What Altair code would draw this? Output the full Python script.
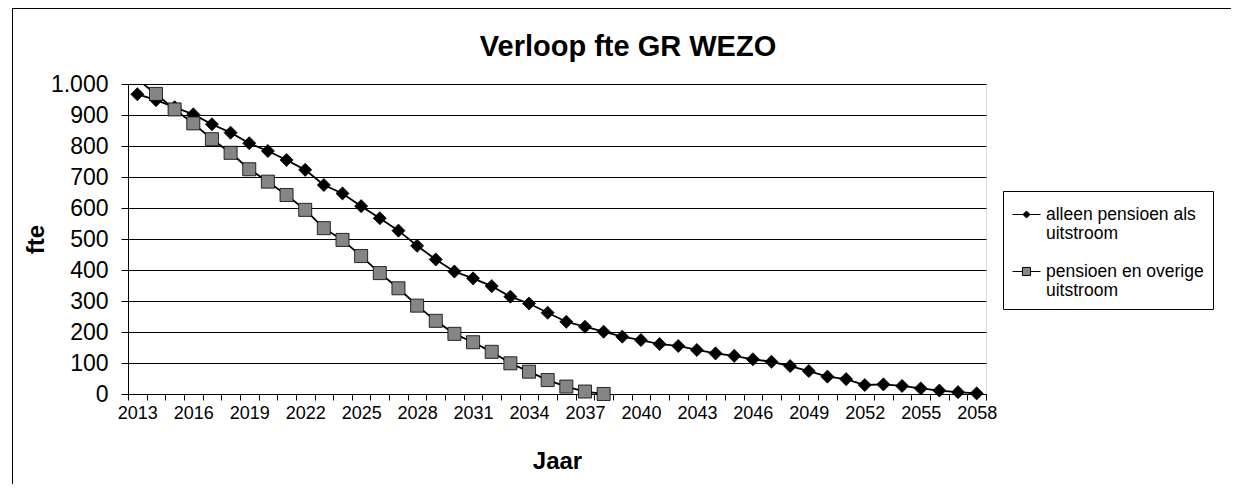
import altair as alt
import pandas as pd

# ---- data ----
years = list(range(2013, 2059))
alleen = [967, 948, 925, 902, 870, 843, 809, 784, 755, 723,
          674, 647, 606, 567, 527, 478, 434, 395, 373, 348,
          314, 292, 262, 233, 217, 201, 185, 174, 161, 155,
          142, 131, 123, 112, 104, 90, 74, 56, 48, 29,
          31, 26, 18, 11, 6, 2]
overige_years = list(range(2013, 2039))
overige = [1015, 968, 918, 873, 822, 778, 725, 685, 642, 594,
           535, 497, 445, 390, 341, 285, 236, 194, 167, 136,
           99, 72, 45, 24, 8, 0]
series_names = ["alleen pensioen als uitstroom", "pensioen en overige uitstroom"]
y_ticks = list(range(0, 1001, 100))
x_label_years = list(range(2013, 2059, 3))
title_text = "Verloop fte GR WEZO"

rows = [{"jaar": y, "fte": v, "serie": series_names[0]} for y, v in zip(years, alleen)]
rows += [{"jaar": y, "fte": v, "serie": series_names[1]} for y, v in zip(overige_years, overige)]
df = pd.DataFrame(rows)

FONT = "Liberation Sans"
W, H = 858, 310

x_vals = [y - 0.5 for y in years] + [years[-1] + 0.5] + x_label_years

x_enc = alt.X(
    "jaar:Q",
    scale=alt.Scale(domain=[years[0] - 0.5, years[-1] + 0.5], nice=False, zero=False),
    title="Jaar",
    axis=alt.Axis(
        values=x_vals,
        labelExpr="datum.value % 1 == 0 ? toString(datum.value) : ''",
        tickOpacity={"condition": {"test": "datum.value % 1 != 0", "value": 1}, "value": 0},
        labelOverlap=False, labelFlush=False, labelBound=False,
        tickSize=6, labelPadding=4, labelFontSize=18, labelFont=FONT, labelColor="black",
        tickColor="black", domainColor="black", grid=False,
        titleFont=FONT, titleFontSize=24, titleFontWeight="bold", titleColor="black",
        titleX=429, titleY=67, titleBaseline="middle", titleAlign="center",
    ),
)
y_enc = alt.Y(
    "fte:Q",
    scale=alt.Scale(domain=[0, 1000], nice=False),
    title="fte",
    axis=alt.Axis(
        values=y_ticks,
        labelExpr="replace(datum.label, ',', '.')",
        tickSize=7, labelPadding=13, labelFontSize=23, labelFont=FONT, labelColor="black",
        tickColor="black", domainColor="black",
        grid=True, gridColor="black", gridWidth=1, gridOpacity=1,
        titleFont=FONT, titleFontSize=24, titleFontWeight="bold", titleColor="black",
        titleX=-92, titleY=155, titleAngle=270, titleBaseline="middle", titleAlign="center",
    ),
)

base = alt.Chart(df)

lines = base.mark_line(color="black", strokeWidth=1.8, clip=True).encode(
    x=x_enc, y=y_enc, detail="serie:N"
)

points = base.transform_filter("datum.fte <= 1000").mark_point(
    filled=True, size=170, stroke="black", strokeWidth=0.8, opacity=1
).encode(
    x=x_enc, y=y_enc,
    shape=alt.Shape("serie:N", scale=alt.Scale(domain=series_names, range=["diamond", "square"]), legend=None),
    fill=alt.Fill("serie:N", scale=alt.Scale(domain=series_names, range=["black", "#858585"]), legend=None),
)

diamond_path = "M-1,0L-0.25,0M0.25,0L1,0M0,-0.25L0.25,0L0,0.25L-0.25,0Z"
square_path = "M-1,0L-0.29,0M0.29,0L1,0M-0.29,-0.29L0.29,-0.29L0.29,0.29L-0.29,0.29Z"

NB = "\u00a0" * 4
legend_cfg = dict(
    title=None, orient="none", legendX=875, legendY=107, padding=9,
    strokeColor="black", fillColor="white",
    labelFont=FONT, labelFontSize=17.5, labelColor="black", labelLimit=400,
    labelExpr=("datum.label == 'alleen pensioen als uitstroom' ? ['alleen pensioen als" + NB
               + "', 'uitstroom'] : ['pensioen en overige" + NB + "', 'uitstroom']"),
    labelBaseline="middle", labelOffset=5,
    symbolSize=784, symbolStrokeWidth=1, symbolStrokeColor="black", rowPadding=14,
)

legend_layer = base.transform_filter("false").mark_point(
    filled=True, strokeWidth=1, opacity=1
).encode(
    x=x_enc, y=y_enc,
    shape=alt.Shape("serie:N", scale=alt.Scale(domain=series_names, range=[diamond_path, square_path]),
                    legend=alt.Legend(**legend_cfg)),
    fill=alt.Fill("serie:N", scale=alt.Scale(domain=series_names, range=["black", "#858585"]),
                  legend=alt.Legend(**legend_cfg)),
    stroke=alt.Stroke("serie:N", scale=alt.Scale(domain=series_names, range=["black", "black"]),
                      legend=alt.Legend(**legend_cfg)),
)

one = alt.Data(values=[{"k": 1}])
frame_top = alt.Chart(one).mark_rule(color="black", strokeWidth=1).encode(
    x=alt.value(-116), x2=alt.value(1119), y=alt.value(-75.5)
)
frame_left = alt.Chart(one).mark_rule(color="black", strokeWidth=1).encode(
    x=alt.value(-115.5), y=alt.value(-76), y2=alt.value(415)
)
title = alt.Chart(one).mark_text(
    text=title_text, font=FONT, fontSize=29, fontWeight="bold", color="black",
    align="center", baseline="alphabetic"
).encode(x=alt.value(500), y=alt.value(-28))

chart = alt.layer(frame_top, frame_left, title, lines, points, legend_layer).resolve_scale(
    shape="independent", fill="independent", stroke="independent"
).properties(
    width=W, height=H,
    autosize=alt.AutoSizeParams(type="none"),
    padding={"left": 120, "top": 76, "right": 245, "bottom": 90},
).configure_view(
    fill="#d0d0d0", stroke="black", strokeWidth=1
).configure(background="white")

chart.save("out.html", embed_options={"renderer": "svg", "actions": False})
